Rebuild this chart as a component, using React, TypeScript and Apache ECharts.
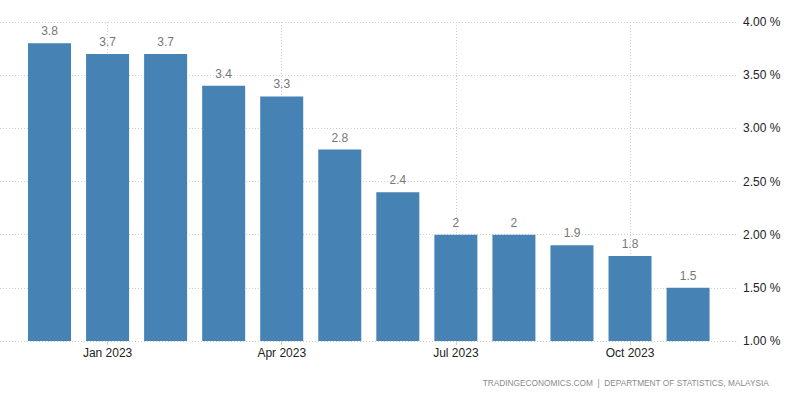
import React, { useEffect, useRef } from "react";
import * as echarts from "echarts";

const months = ["Dec 2022", "Jan 2023", "Feb 2023", "Mar 2023", "Apr 2023", "May 2023", "Jun 2023", "Jul 2023", "Aug 2023", "Sep 2023", "Oct 2023", "Nov 2023"];
const values = [3.8, 3.7, 3.7, 3.4, 3.3, 2.8, 2.4, 2, 2, 1.9, 1.8, 1.5];
const labeledMonths = ["Jan 2023", "Apr 2023", "Jul 2023", "Oct 2023"];
const yMin = 1;
const yMax = 4;
const yStep = 0.5;
const footer = "TRADINGECONOMICS.COM  |  DEPARTMENT OF STATISTICS, MALAYSIA";

export default function App() {
  const ref = useRef<HTMLDivElement>(null);
  useEffect(() => {
    if (!ref.current) return;
    const chart = echarts.init(ref.current, undefined, { renderer: "svg" });
    const font = "'Liberation Sans', Arial, sans-serif";
    const labeledIdx = labeledMonths.map((m) => months.indexOf(m));
    const gridColor = "#cfcfcf";
    chart.setOption({
      animation: false,
      backgroundColor: "#ffffff",
      textStyle: { fontFamily: font },
      grid: { left: 0, right: 48, top: 22, bottom: 53 },
      xAxis: {
        type: "value",
        min: -0.853,
        max: 11.86,
        axisLine: { show: false },
        splitLine: { show: false },
        axisTick: {
          show: true,
          customValues: labeledIdx,
          length: 4,
          lineStyle: { color: "#cccccc" },
        },
        axisLabel: {
          customValues: labeledIdx,
          formatter: (v: number) => months[Math.round(v)] ?? "",
          color: "#222222",
          fontSize: 12,
          fontFamily: font,
          margin: 6,
        },
      },
      yAxis: {
        type: "value",
        position: "right",
        min: yMin,
        max: yMax,
        interval: yStep,
        axisLine: { show: false },
        axisTick: { show: false },
        axisLabel: {
          formatter: (v: number) => v.toFixed(2) + " %",
          color: "#222222",
          fontSize: 12,
          fontFamily: font,
          margin: 5,
        },
        splitLine: { lineStyle: { color: gridColor, type: [1, 2], width: 1 } },
      },
      series: [
        {
          type: "line",
          data: [],
          z: 1,
          markLine: {
            silent: true,
            symbol: "none",
            z: 1,
            label: { show: false },
            lineStyle: { color: gridColor, type: [1, 2], width: 1 },
            data: labeledIdx.map((i) => ({ xAxis: i })),
          },
        },
        {
          type: "bar",
          z: 3,
          data: values.map((v, i) => [i, v]),
          barWidth: 43,
          itemStyle: { color: "#4682b4" },
          label: {
            show: true,
            position: "top",
            distance: 6,
            color: "#777777",
            fontSize: 12,
            fontFamily: font,
            formatter: (p: any) => String(p.value[1]),
          },
        },
      ],
      graphic: [
        {
          type: "text",
          right: 17,
          top: 379,
          style: {
            text: footer,
            fill: "#8a8a8a",
            fontSize: 8.3,
            fontFamily: font,
          },
        },
      ],
    });
    return () => chart.dispose();
  }, []);
  return <div ref={ref} style={{ position: "absolute", left: 0, top: 0, width: 786, height: 394 }} />;
}
